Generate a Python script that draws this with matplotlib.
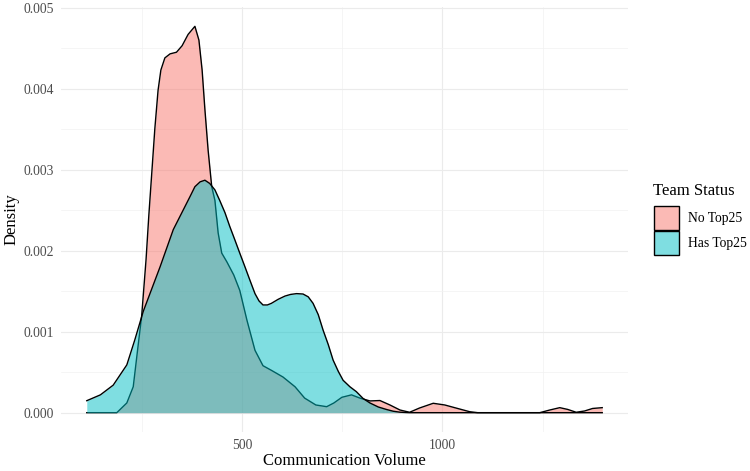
import matplotlib
matplotlib.use("Agg")
import matplotlib.pyplot as plt
from matplotlib.patches import Rectangle
from matplotlib.ticker import MultipleLocator

# density estimates, per group
vol_no = [112, 187, 212, 228, 240, 249, 260, 267, 275, 282, 290, 297, 307, 320,
          336, 350, 365, 382, 392, 400, 407, 415, 424, 432, 440, 449, 462, 479,
          494, 512, 532, 552, 574, 602, 632, 656, 684, 711, 729, 749, 773, 794,
          819, 844, 869, 894, 918, 943, 977, 1006, 1038, 1068, 1088, 1243, 1268,
          1293, 1313, 1334, 1355, 1375, 1399]
dens_no = [0.0, 0.0, 0.12, 0.32, 0.82, 1.19, 1.89, 2.44, 3.01, 3.51, 3.98, 4.23,
           4.38, 4.43, 4.45, 4.53, 4.67, 4.77, 4.60, 4.23, 3.74, 3.24, 2.79,
           2.62, 2.22, 1.97, 1.86, 1.70, 1.51, 1.14, 0.77, 0.58, 0.52, 0.44,
           0.32, 0.18, 0.095, 0.074, 0.12, 0.19, 0.22, 0.18, 0.145, 0.15, 0.095,
           0.033, 0.005, 0.058, 0.116, 0.095, 0.052, 0.012, 0.0, 0.0, 0.033,
           0.062, 0.04, 0.005, 0.021, 0.052, 0.062]

vol_has = [112, 146, 178, 212, 232, 253, 295, 328, 370, 382, 395, 407, 419, 432,
           444, 457, 469, 482, 494, 507, 519, 532, 542, 552, 563, 573, 590, 607,
           621, 636, 652, 665, 677, 690, 702, 715, 727, 740, 752, 769, 785, 802,
           819, 840, 860, 877, 894, 918, 943, 1399]
dens_has = [0.148, 0.22, 0.34, 0.59, 0.90, 1.25, 1.80, 2.26, 2.67, 2.79, 2.85,
            2.87, 2.83, 2.75, 2.62, 2.47, 2.30, 2.13, 1.97, 1.80, 1.64, 1.47,
            1.38, 1.33, 1.33, 1.35, 1.40, 1.44, 1.46, 1.47, 1.465, 1.43, 1.35,
            1.21, 1.02, 0.84, 0.65, 0.51, 0.40, 0.32, 0.26, 0.175, 0.12, 0.07,
            0.04, 0.018, 0.006, 0.0, 0.0, 0.0]

groups = ["No Top25", "Has Top25"]
colors = ["#F8766D", "#00BFC4"]

plt.rcParams['font.family'] = ['Liberation Serif', 'DejaVu Serif']

fig = plt.figure(figsize=(7.5, 4.71), dpi=100)
ax = fig.add_axes([61/750, 1 - 432/471, 567/750, 425/471])

series = [(vol_no, dens_no), (vol_has, dens_has)]
z = 2
for (xs, ys), col in zip(series, colors):
    yv = [d / 1000 for d in ys]
    ax.fill_between(xs, 0, yv, color=col, alpha=0.5, linewidth=0, zorder=z)
    ax.plot(xs, yv, color='black', lw=1.0, zorder=z + 0.5, solid_joinstyle='round')
    z += 1

ymax = max(dens_no) / 1000
ax.set_xlim(112 - 0.05 * 1287, 1399 + 0.05 * 1287)
ax.set_ylim(-0.05 * ymax, 1.05 * ymax)

ax.xaxis.set_minor_locator(MultipleLocator(250))
ax.yaxis.set_minor_locator(MultipleLocator(0.0005))
ax.set_xticks([500, 1000])
ax.set_yticks([0, 0.001, 0.002, 0.003, 0.004, 0.005])
ax.set_yticklabels(["0.000", "0.001", "0.002", "0.003", "0.004", "0.005"])

ax.grid(which='major', color='#EBEBEB', lw=0.8, zorder=0)
ax.grid(which='minor', color='#F2F2F2', lw=0.5, zorder=0)
ax.set_axisbelow(True)
for s in ax.spines.values():
    s.set_visible(False)
ax.tick_params(which='both', length=0, labelsize=9.8, labelcolor='#4D4D4D', pad=5)

ax.set_xlabel("Communication Volume", fontsize=12, labelpad=1)
ax.set_ylabel("Density", fontsize=12, labelpad=3)

# legend, drawn by hand to match the ggplot guide
fig.text(653/750, 1 - 191/471, "Team Status", fontsize=12, ha='left', va='center')
key_top = [206, 231]
for top, col, lab in zip(key_top, colors, groups):
    fig.patches.append(Rectangle((654/750, 1 - (top + 24)/471), 25/750, 24/471,
                                 transform=fig.transFigure,
                                 facecolor=matplotlib.colors.to_rgba(col, 0.5),
                                 edgecolor='black', lw=1.0))
    fig.text(688/750, 1 - (top + 12.5)/471, lab, fontsize=9.8, ha='left', va='center')

fig.savefig("out.png", dpi=100)
